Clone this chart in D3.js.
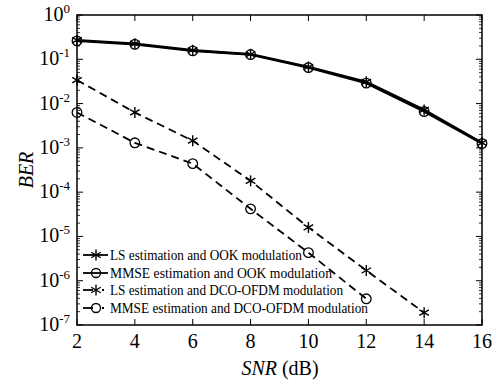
<!DOCTYPE html>
<html><head><meta charset="utf-8">
<script src="https://cdn.jsdelivr.net/npm/d3@7"></script>
<style>body{margin:0;background:#fff}svg{display:block}text{font-family:"Liberation Serif","Times New Roman",serif}</style>
</head><body><svg id="c" width="494" height="380" font-family="Liberation Serif, serif"></svg>
<script>
const snr = [2,4,6,8,10,12,14,16];
const lsOOK   = [0.27,0.225,0.16,0.13,0.067,0.031,0.0072,0.0013];
const mmseOOK = [0.26,0.218,0.155,0.128,0.065,0.029,0.0066,0.00125];
const snrDCO_LS = [2,4,6,8,10,12,14];
const lsDCO   = [0.034,0.0063,0.00145,0.00018,1.6e-5,1.7e-6,1.9e-7];
const snrDCO_MMSE = [2,4,6,8,10,12];
const mmseDCO = [0.0063,0.0013,0.00044,4.2e-5,4.3e-6,3.9e-7];
const xTicks = [2,4,6,8,10,12,14,16];
const yExps = [0,-1,-2,-3,-4,-5,-6,-7];
const legendLabels = ["LS estimation and OOK modulation","MMSE estimation and OOK modulation","LS estimation and DCO-OFDM modulation","MMSE estimation and DCO-OFDM modulation"];

const svg = d3.select("#c");
const L=77,R=482,T=15,B=325;
const x = d3.scaleLinear().domain([2,16]).range([L,R]);
const y = d3.scaleLog().domain([1e-7,1]).range([B,T]);

const g = svg.append("g");
g.append("rect").attr("x",L).attr("y",T).attr("width",R-L).attr("height",B-T).attr("fill","none").attr("stroke","#000").attr("stroke-width",1.5);
xTicks.forEach(v=>{
  g.append("line").attr("x1",x(v)).attr("x2",x(v)).attr("y1",B).attr("y2",B-6).attr("stroke","#000");
  g.append("line").attr("x1",x(v)).attr("x2",x(v)).attr("y1",T).attr("y2",T+6).attr("stroke","#000");
  g.append("text").attr("x",x(v)).attr("y",348).attr("text-anchor","middle").attr("font-size",20).text(v);
});
yExps.forEach(e=>{
  const yy=y(Math.pow(10,e));
  g.append("line").attr("x1",L).attr("x2",L+6).attr("y1",yy).attr("y2",yy).attr("stroke","#000");
  g.append("line").attr("x1",R).attr("x2",R-6).attr("y1",yy).attr("y2",yy).attr("stroke","#000");
  const t=g.append("text").attr("x",L-7).attr("y",yy+6).attr("text-anchor","end").attr("font-size",20);
  t.append("tspan").text("10");
  t.append("tspan").attr("dy",-8).attr("font-size",13).text(e===0?"0":"-"+(-e));
  if(e>-7){
    for(let m=2;m<=9;m++){
      const ym=y(m*Math.pow(10,e-1));
      g.append("line").attr("x1",L).attr("x2",L+3).attr("y1",ym).attr("y2",ym).attr("stroke","#000").attr("stroke-width",0.8);
      g.append("line").attr("x1",R).attr("x2",R-3).attr("y1",ym).attr("y2",ym).attr("stroke","#000").attr("stroke-width",0.8);
    }
  }
});
const xt=g.append("text").attr("x",280).attr("y",375).attr("text-anchor","middle").attr("font-size",20);
xt.append("tspan").attr("font-style","italic").text("SNR");
xt.append("tspan").text(" (dB)");
g.append("text").attr("transform","translate(33,170) rotate(-90)").attr("text-anchor","middle").attr("font-size",20).attr("font-style","italic").text("BER");

const line = d3.line().x(d=>x(d[0])).y(d=>y(d[1]));
function star(gg,cx,cy,s){
  [0,60,120].forEach(a=>{
    const rad=a*Math.PI/180;
    gg.append("line").attr("x1",cx-s*Math.sin(rad)).attr("y1",cy-s*Math.cos(rad)).attr("x2",cx+s*Math.sin(rad)).attr("y2",cy+s*Math.cos(rad)).attr("stroke","#000").attr("stroke-width",1.4);
  });
}
function circ(gg,cx,cy,r){
  gg.append("circle").attr("cx",cx).attr("cy",cy).attr("r",r).attr("fill","none").attr("stroke","#000").attr("stroke-width",1.3);
}
const series = [
  {xs:snr,ys:lsOOK,dash:null,m:"star",w:2.3},
  {xs:snr,ys:mmseOOK,dash:null,m:"circ",w:2.3},
  {xs:snrDCO_LS,ys:lsDCO,dash:"8,5",m:"star",w:1.8},
  {xs:snrDCO_MMSE,ys:mmseDCO,dash:"8,5",m:"circ",w:1.8}
];
series.forEach(s=>{
  const data=s.xs.map((v,i)=>[v,s.ys[i]]);
  g.append("path").datum(data).attr("d",line).attr("fill","none").attr("stroke","#000").attr("stroke-width",s.w).attr("stroke-dasharray",s.dash);
  data.forEach(d=>{ if(s.m==="star") star(g,x(d[0]),y(d[1]),5.5); else circ(g,x(d[0]),y(d[1]),4.8); });
});
const ly=[255,273,290,308];
const lw=[192,222,233,258];
series.forEach((s,i)=>{
  const yy=ly[i];
  if(s.dash){
    g.append("line").attr("x1",83).attr("x2",93).attr("y1",yy).attr("y2",yy).attr("stroke","#000").attr("stroke-width",1.8);
    g.append("line").attr("x1",102).attr("x2",104).attr("y1",yy).attr("y2",yy).attr("stroke","#000").attr("stroke-width",1.8);
  } else {
    g.append("line").attr("x1",83).attr("x2",108).attr("y1",yy).attr("y2",yy).attr("stroke","#000").attr("stroke-width",1.8);
  }
  if(s.m==="star") star(g,96,yy,5.5); else circ(g,96,yy,4.5);
  g.append("text").attr("x",110).attr("y",yy+5).attr("font-size",14).attr("textLength",lw[i]).attr("lengthAdjust","spacingAndGlyphs").text(legendLabels[i]);
});
</script></body></html>
